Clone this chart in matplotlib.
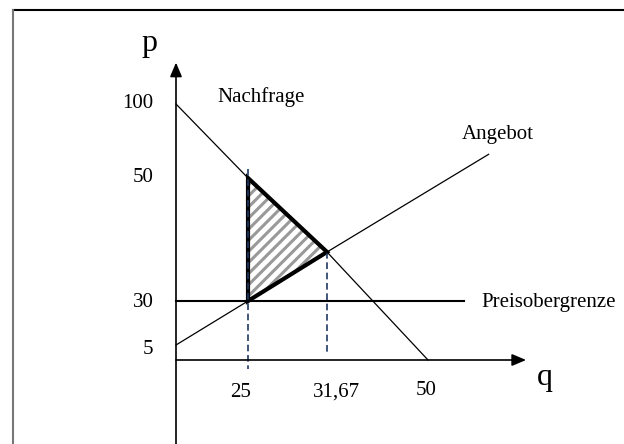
import numpy as np
import matplotlib
matplotlib.use("Agg")
import matplotlib.pyplot as plt
from matplotlib.patches import Polygon
from matplotlib.lines import Line2D

# ---------------- data (economic units) ----------------
p_ticks = [100, 50, 30, 5]
p_labels = ["100", "50", "30", "5"]
q_ticks = [25, 31.67, 50]
q_labels = ["25", "31,67", "50"]

demand_q = [0, 25, 31.67, 50]
demand_p = [100, 50, 36.67, 0]
supply_q = [0, 25, 31.67, 61]
supply_p = [5, 30, 36.67, 66]
ceiling_q = [0, 56.5]
ceiling_p = [30, 30]
dwl_q = [25, 25, 31.67]
dwl_p = [50, 30, 36.67]
guide_q = [25, 31.67]
guide_p_top = [55.8, 36.67]
guide_p_bottom = [-3, 1.9]

# ---------------- schematic (non-linear) scales ----------------
q_anchor = np.array([-100, 0, 25, 31.67, 50, 200])
x_pix = np.array([176 - 288, 176, 248, 327, 428, 428 + 150 * 5.51])
p_anchor = np.array([-100, 0, 5, 30, 36.67, 50, 100, 300])
y_pix = np.array([360 + 300, 360, 345, 301, 252, 178, 104, 104 - 200 * 1.48])


def fx(v):
    return np.interp(v, q_anchor, x_pix)


def ix(v):
    return np.interp(v, x_pix, q_anchor)


def fy(v):
    return -np.interp(v, p_anchor, y_pix)


def iy(v):
    return np.interp(v, -y_pix, p_anchor)


plt.rcParams["hatch.linewidth"] = 2.2
W, H = 624, 444
fig = plt.figure(figsize=(W / 100, H / 100), dpi=100)
ax = fig.add_axes([0, 0, 1, 1])
ax.set_xscale("function", functions=(fx, ix))
ax.set_yscale("function", functions=(fy, iy))
ax.set_xlim(float(ix(0)), float(ix(W)))
ax.set_ylim(float(iy(-H)), float(iy(0)))
ax.axis("off")

font = dict(family="Liberation Serif", color="black")

# axes with arrows
arrow = dict(arrowstyle="-|>,head_length=0.85,head_width=0.36", mutation_scale=10,
             color="black", lw=1.2, shrinkA=0, shrinkB=0)
ax.annotate("", xy=(0, 128), xytext=(0, -29), arrowprops=arrow)
ax.annotate("", xy=(67.8, 0), xytext=(0, 0), arrowprops=arrow)

# guide lines
for gq, top, bot in zip(guide_q, guide_p_top, guide_p_bottom):
    ax.plot([gq, gq], [top, bot], color="#203864", lw=1.2, ls=(0, (4, 2.2)))

# curves
ax.plot(demand_q, demand_p, color="black", lw=0.9)
ax.plot(supply_q, supply_p, color="black", lw=0.9)
ax.plot(ceiling_q, ceiling_p, color="black", lw=1.5)

# deadweight-loss triangle
tri = list(zip(dwl_q, dwl_p))
ax.add_patch(Polygon(tri, closed=True, fill=False, hatch="///", edgecolor="#999999", lw=0))
ax.add_patch(Polygon(tri, closed=True, fill=False, edgecolor="black", lw=3, joinstyle="miter"))

# tick labels
p_off = [(-23, -4), (-22, -4), (-22, -6), (-23, -9)]
for v, lab, off in zip(p_ticks, p_labels, p_off):
    ax.annotate(lab, xy=(0, v), xytext=off, textcoords="offset pixels",
                ha="right", va="baseline", fontsize=15, **font)
q_off = [(-7, -37), (9, -37), (-2, -35)]
for v, lab, off in zip(q_ticks, q_labels, q_off):
    ax.annotate(lab, xy=(v, 0), xytext=off, textcoords="offset pixels",
                ha="center", va="baseline", fontsize=15, **font)

# curve labels
ax.annotate("Nachfrage", xy=(demand_q[0], demand_p[0]), xytext=(85, 2),
            textcoords="offset pixels", ha="center", va="baseline", fontsize=15, **font)
ax.annotate("Angebot", xy=(supply_q[-1], supply_p[-1]), xytext=(9, 15),
            textcoords="offset pixels", ha="center", va="baseline", fontsize=15, **font)
ax.annotate("Preisobergrenze", xy=(ceiling_q[-1], ceiling_p[-1]), xytext=(18, -6),
            textcoords="offset pixels", ha="left", va="baseline", fontsize=15, **font)

# axis names
ax.annotate("p", xy=(0, 128), xytext=(-27, 12), textcoords="offset pixels",
            ha="center", va="baseline", fontsize=23, **font)
ax.annotate("q", xy=(67.8, 0), xytext=(19, -25), textcoords="offset pixels",
            ha="center", va="baseline", fontsize=23, **font)

# frame
fig.add_artist(Line2D([13 / W, 1], [1 - 10 / H, 1 - 10 / H], transform=fig.transFigure,
                      color="black", lw=1.5))
fig.add_artist(Line2D([13 / W, 13 / W], [0, 1 - 10 / H], transform=fig.transFigure,
                      color="#777777", lw=1.5))

fig.savefig("out.png", dpi=100)
